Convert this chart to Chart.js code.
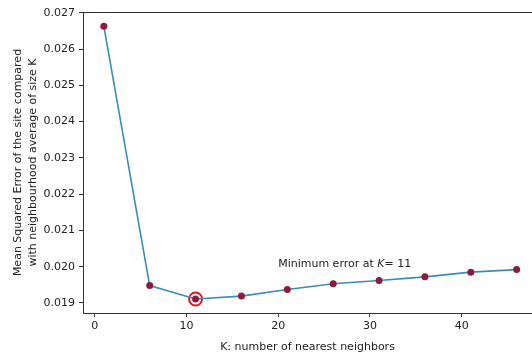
<!DOCTYPE html>
<html>
<head>
<meta charset="utf-8">
<script src="https://cdn.jsdelivr.net/npm/chart.js@4.4.0/dist/chart.umd.min.js"></script>
<style>
  html, body { margin: 0; padding: 0; background: #fff; }
  #wrap { width: 532px; height: 354px; }
</style>
</head>
<body>
<div id="wrap"><canvas id="chart-knn"></canvas></div>
<script>
// data
var kValues = [1, 6, 11, 16, 21, 26, 31, 36, 41, 46];
var mseValues = [0.02663, 0.01948, 0.01911, 0.01919, 0.01937, 0.01953, 0.01962, 0.01972, 0.01985, 0.01992];
var xTicks = [0, 10, 20, 30, 40];
var yTicks = [0.019, 0.020, 0.021, 0.022, 0.023, 0.024, 0.025, 0.026, 0.027];
var noteText = ["Minimum error at ", "K", "= 11"];
var notePos = [20, 0.0200];

var best = 0;
for (var i = 1; i < mseValues.length; i++) {
  if (mseValues[i] < mseValues[best]) best = i;
}

var points = kValues.map(function (k, i) { return { x: k, y: mseValues[i] }; });
var fontFam = "'DejaVu Sans', sans-serif";

function noPad(s) {
  s.paddingLeft = 0;
  s.paddingRight = 0;
}

var notePlugin = {
  id: 'note',
  afterDatasetsDraw: function (chart) {
    var c = chart.ctx;
    var x = chart.scales.x.getPixelForValue(notePos[0]);
    var y = chart.scales.y.getPixelForValue(notePos[1]);
    c.save();
    c.fillStyle = '#222';
    c.textBaseline = 'alphabetic';
    c.textAlign = 'left';
    for (var j = 0; j < noteText.length; j++) {
      c.font = (j == 1 ? 'italic ' : '') + '11px ' + fontFam;
      c.fillText(noteText[j], x, y);
      x += c.measureText(noteText[j]).width;
    }
    c.restore();
  }
};

var ctx = document.getElementById("chart-knn").getContext("2d");
new Chart(ctx, {
  type: "line",
  data: {
    datasets: [{
      label: "MSE",
      data: points,
      borderColor: "#3a8db5",
      borderWidth: 1.6,
      tension: 0,
      pointRadius: 3.5,
      pointBackgroundColor: "#8e1b3f",
      pointBorderColor: "#8e1b3f",
      pointBorderWidth: 0,
      fill: false
    }, {
      label: "Minimum",
      data: [{ x: kValues[best], y: mseValues[best] }],
      showLine: false,
      pointRadius: 6.5,
      pointBorderWidth: 2,
      pointBorderColor: "#e0161c",
      pointBackgroundColor: "transparent"
    }]
  },
  options: {
    responsive: true,
    maintainAspectRatio: false,
    animation: false,
    layout: { padding: 0, autoPadding: false },
    plugins: {
      legend: { display: false },
      tooltip: { enabled: false }
    },
    scales: {
      x: {
        type: 'linear',
        position: 'bottom',
        min: -1.27,
        max: 47.67,
        afterBuildTicks: function (s) { s.ticks = xTicks.map(function (v) { return { value: v }; }); },
        afterFit: function (s) { s.height = 41; noPad(s); },
        grid: { drawOnChartArea: false, drawTicks: true, tickLength: 4, color: '#333' },
        border: { display: true, color: '#333', width: 1 },
        ticks: {
          color: '#222',
          padding: 3,
          maxRotation: 0,
          font: { family: fontFam, size: 11 },
          callback: function (v) { return v; }
        },
        title: {
          display: true,
          text: 'K: number of nearest neighbors',
          color: '#222',
          padding: { top: -2, bottom: 0 },
          font: { family: fontFam, size: 11 }
        }
      },
      top: {
        type: 'linear',
        position: 'top',
        min: 0,
        max: 1,
        afterFit: function (s) { s.height = 12; noPad(s); },
        grid: { display: false },
        border: { display: true, color: '#333', width: 1 },
        ticks: { display: false }
      },
      y: {
        type: 'linear',
        position: 'left',
        min: 0.018724,
        max: 0.02702,
        afterBuildTicks: function (s) { s.ticks = yTicks.map(function (v) { return { value: v }; }); },
        afterFit: function (s) { s.width = 83; },
        grid: { drawOnChartArea: false, drawTicks: true, tickLength: 4, color: '#333' },
        border: { display: true, color: '#333', width: 1 },
        ticks: {
          color: '#222',
          padding: 4,
          font: { family: fontFam, size: 11 },
          callback: function (v) { return v.toFixed(3); }
        },
        title: {
          display: true,
          text: ['Mean Squared Error of the site compared', 'with neighbourhood average of size K'],
          color: '#222',
          padding: { top: 10, bottom: 4 },
          font: { family: fontFam, size: 11, lineHeight: 1.4 }
        }
      }
    }
  },
  plugins: [notePlugin]
});
</script>
</body>
</html>
